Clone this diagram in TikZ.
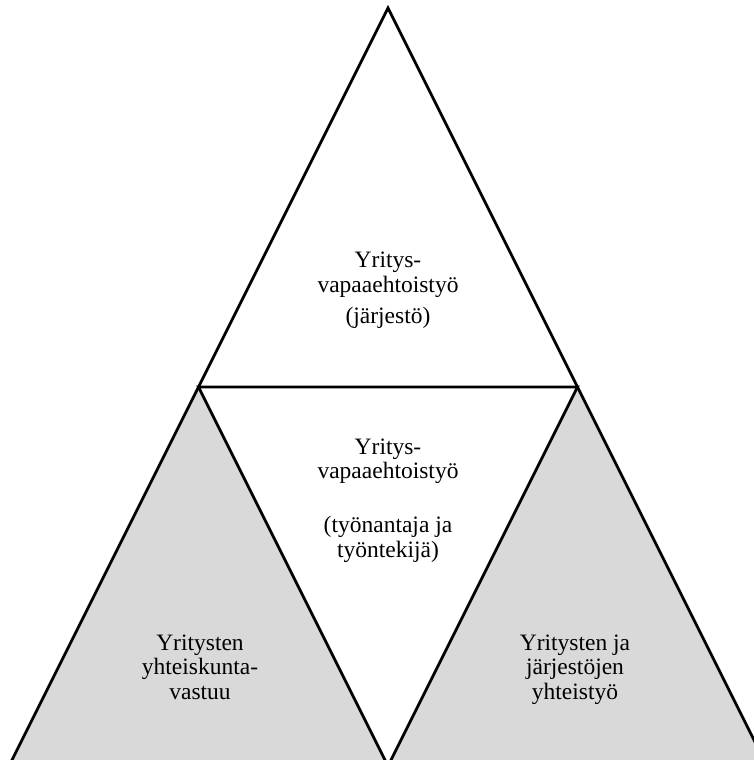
\documentclass[tikz,border=0pt]{standalone}
\usepackage{fontspec}
\setmainfont{Liberation Serif}
\usetikzlibrary{calc}
\definecolor{boxgray}{HTML}{D9D9D9}
\begin{document}
\begin{tikzpicture}[x=1pt,y=-1pt,
    edge/.style={line width=2.8pt, line join=miter},
    shade/.style={fill=boxgray},
    label/.style={align=center, inner sep=0pt, anchor=base,
                  font=\fontsize{23.5}{24.5}\selectfont}]

    % Fix the canvas to the reference size
    \useasboundingbox (0,0) rectangle (754,760);
    \clip (0,0) rectangle (754,760);

    % Corner points of the outer triangle
    \coordinate (apex) at (388,8);
    \coordinate (bl) at (9,766);
    \coordinate (br) at (767,766);

    % Midpoints of the sides
    \coordinate (ml) at ($(apex)!0.5!(bl)$);
    \coordinate (mr) at ($(apex)!0.5!(br)$);
    \coordinate (mb) at ($(bl)!0.5!(br)$);

    % Shade the two lower corner triangles
    \fill[shade] (bl) -- (ml) -- (mb) -- cycle;
    \fill[shade] (mb) -- (mr) -- (br) -- cycle;

    % Outer triangle and inner triangle
    \draw[edge] (apex) -- (bl) -- (br) -- cycle;
    \draw[edge] (ml) -- (mr) -- (mb) -- cycle;

    % Labels (base = baseline of the last line)
    \node[label] (top) at (388,323) {Yritys-\\vapaaehtoistyö\\[6.5pt](järjestö)};
    \node[label] (mid) at (388,557) {Yritys-\\vapaaehtoistyö\\[29.5pt](työnantaja ja\\työntekijä)};
    \node[label] (left) at (200,699) {Yritysten\\yhteiskunta-\\vastuu};
    \node[label] (right) at (575,699) {Yritysten ja\\järjestöjen\\yhteistyö};

\end{tikzpicture}
\end{document}
